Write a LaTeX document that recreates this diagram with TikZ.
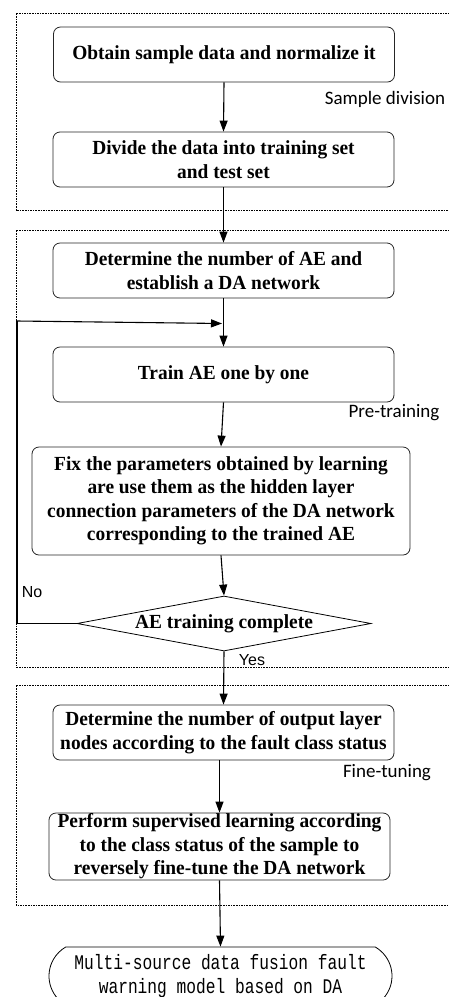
\documentclass[tikz,border=0pt]{standalone}
\usepackage{fontspec}
\setmainfont{Liberation Serif}[FakeStretch=0.97]
\newfontfamily\lblfont{Carlito}
\newfontfamily\arialfont{Liberation Sans}
\newfontfamily\monofont{Liberation Mono}[FakeStretch=0.78]
\usetikzlibrary{shapes.geometric,shapes.misc,arrows.meta}

\begin{document}
\begin{tikzpicture}[x=1pt,y=-1pt,
  stepbox/.style={draw=black!85, line width=0.8pt, rounded corners=7pt,
    align=center, font=\fontsize{20}{23.5}\selectfont\bfseries, inner sep=0pt,
    minimum width=341pt, minimum height=55pt},
  decision/.style={draw=black, line width=0.8pt, shape=diamond, aspect=5.35,
    inner sep=0pt, minimum width=294pt, minimum height=55pt,
    font=\fontsize{20}{23.5}\selectfont\bfseries},
  terminal/.style={draw=black, line width=0.8pt, shape=rounded rectangle,
    rounded rectangle arc length=120, minimum width=343pt, minimum height=58pt,
    align=center, inner sep=0pt, font=\fontsize{20.8}{23.5}\selectfont\monofont},
  stage/.style={draw=black, line width=0.9pt, dash pattern=on 1.6pt off 1pt},
  stagelabel/.style={font=\fontsize{19}{22}\selectfont\lblfont, inner sep=0pt},
  branchlabel/.style={font=\fontsize{16}{19}\selectfont\arialfont, inner sep=0pt},
  flow/.style={draw=black, line width=1.1pt, -{Triangle[length=11pt,width=8pt]}},
  loopline/.style={draw=black, line width=1.1pt}
]
\useasboundingbox (0,0) rectangle (449,997);
\clip (0,0) rectangle (449,997);
\fill[white] (0,0) rectangle (449,997);

% stage frames
\draw[stage] (460,13) -- (16,13) -- (16,210) -- (460,210);
\draw[stage] (460,230) -- (16,230) -- (16,667) -- (460,667);
\draw[stage] (460,685) -- (16,685) -- (16,905) -- (460,905);

% stage labels
\node[stagelabel] (lsd) at (385,99) {Sample division};
\node[stagelabel] (lpt) at (394,413) {Pre-training};
\node[stagelabel] (lft) at (387,773) {Fine-tuning};

% steps
\node[stepbox] (n1) at (224,54.5) {Obtain sample data and normalize it};
\node[stepbox] (n2) at (223.5,159.5) {Divide the data into training set\\and test set};
\node[stepbox] (n3) at (223.5,270.5) {Determine the number of AE and\\establish a DA network};
\node[stepbox] (n4) at (223.5,374.5) {Train AE one by one};
\node[stepbox, minimum width=378pt, minimum height=108pt] (n5) at (221,501)
  {Fix the parameters obtained by learning\\are use them as the hidden layer\\connection parameters of the DA network\\corresponding to the trained AE};
\node[decision] (d1) at (224,623.5) {AE training complete};
\node[stepbox] (n7) at (223.5,732.5) {Determine the number of output layer\\nodes according to the fault class status};
\node[stepbox, minimum height=67pt] (n8) at (219.5,846.5)
  {Perform supervised learning according\\to the class status of the sample to\\reversely fine-tune the DA network};
\node[terminal] (n9) at (220.5,976) {Multi-source data fusion fault\\warning model based on DA};

% branch labels
\node[branchlabel] (lno) at (32,592) {No};
\node[branchlabel] (lyes) at (252,660) {Yes};

% connectors
\draw[flow] (n1.south) -- (n2.north);
\draw[flow] (n2.south) -- (n3.north);
\draw[flow] (n3.south) -- (n4.north);
\draw[flow] (n4.south) -- (n5.north);
\draw[flow] (n5.south) -- (d1.north);
\draw[flow] (d1.south) -- (n7.north);
\draw[flow] (n7.south -| n8.north) -- (n8.north);
\draw[flow] (n8.south) -- (n9.north);

% feedback loop
\coordinate (fbl) at (17,623.5);
\coordinate (fbt) at (17,321);
\coordinate (join) at (222,323.5);
\draw[loopline] (d1.west) -- (fbl) -- (fbt);
\draw[flow] (fbt) -- (join);
\end{tikzpicture}
\end{document}
